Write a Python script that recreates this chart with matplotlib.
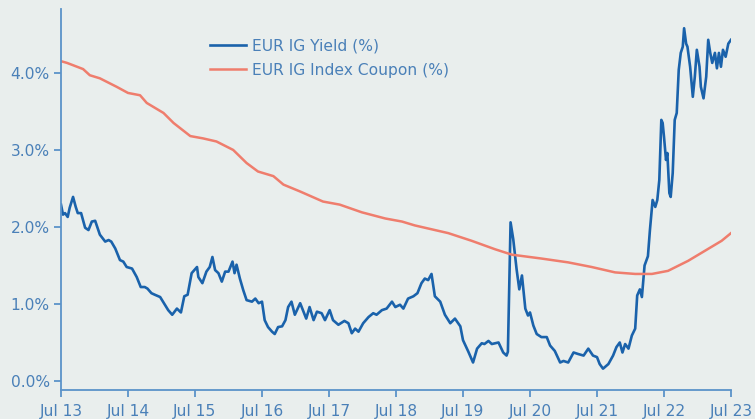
import matplotlib
matplotlib.use("Agg")
import matplotlib.pyplot as plt
import pandas as pd
import numpy as np

# ---- data (decimal years, percent) ----
yield_t = [2013.50, 2013.53, 2013.56, 2013.60, 2013.63, 2013.68, 2013.72, 2013.75, 2013.80, 2013.86,
           2013.91, 2013.96, 2014.01, 2014.08, 2014.16, 2014.21, 2014.25, 2014.31, 2014.38, 2014.43,
           2014.48, 2014.56, 2014.63, 2014.69, 2014.75, 2014.79, 2014.85, 2014.90, 2014.98, 2015.05,
           2015.10, 2015.16, 2015.23, 2015.29, 2015.34, 2015.39, 2015.45, 2015.53, 2015.55, 2015.61,
           2015.67, 2015.72, 2015.76, 2015.80, 2015.85, 2015.90, 2015.95, 2016.00, 2016.06, 2016.09,
           2016.12, 2016.17, 2016.22, 2016.27, 2016.35, 2016.40, 2016.45, 2016.50, 2016.54, 2016.59,
           2016.65, 2016.69, 2016.74, 2016.80, 2016.85, 2016.89, 2016.94, 2016.99, 2017.07, 2017.12,
           2017.16, 2017.21, 2017.27, 2017.32, 2017.39, 2017.44, 2017.51, 2017.56, 2017.64, 2017.73,
           2017.79, 2017.84, 2017.89, 2017.94, 2018.01, 2018.09, 2018.16, 2018.21, 2018.29, 2018.36,
           2018.44, 2018.49, 2018.56, 2018.61, 2018.68, 2018.76, 2018.82, 2018.88, 2018.93, 2018.98,
           2019.03, 2019.08, 2019.16, 2019.23, 2019.31, 2019.38, 2019.46, 2019.50, 2019.58, 2019.65,
           2019.71, 2019.78, 2019.82, 2019.88, 2019.93, 2020.03, 2020.10, 2020.15, 2020.17, 2020.21,
           2020.25, 2020.30, 2020.34, 2020.38, 2020.43, 2020.47, 2020.50, 2020.55, 2020.60, 2020.67,
           2020.75, 2020.80, 2020.87, 2020.95, 2021.00, 2021.07, 2021.15, 2021.22, 2021.30, 2021.37,
           2021.44, 2021.50, 2021.54, 2021.59, 2021.67, 2021.74, 2021.79, 2021.84, 2021.88, 2021.92,
           2021.97, 2022.02, 2022.07, 2022.10, 2022.14, 2022.17, 2022.21, 2022.26, 2022.29, 2022.33,
           2022.37, 2022.40, 2022.43, 2022.46, 2022.48, 2022.50, 2022.53, 2022.55, 2022.58, 2022.60,
           2022.63, 2022.66, 2022.69, 2022.72, 2022.75, 2022.78, 2022.80, 2022.83, 2022.85, 2022.89,
           2022.93, 2022.96, 2022.99, 2023.03, 2023.05, 2023.09, 2023.13, 2023.16, 2023.19, 2023.22,
           2023.26, 2023.29, 2023.32, 2023.35, 2023.38, 2023.42, 2023.46, 2023.50]
yield_v = [2.29, 2.16, 2.18, 2.13, 2.25, 2.39, 2.26, 2.18, 2.18, 1.99,
           1.96, 2.07, 2.08, 1.90, 1.81, 1.83, 1.81, 1.72, 1.57, 1.55,
           1.48, 1.46, 1.35, 1.22, 1.22, 1.20, 1.14, 1.12, 1.09, 0.99,
           0.92, 0.86, 0.94, 0.89, 1.10, 1.12, 1.40, 1.48, 1.35, 1.27,
           1.42, 1.48, 1.61, 1.44, 1.40, 1.29, 1.42, 1.42, 1.55, 1.40,
           1.51, 1.33, 1.18, 1.05, 1.03, 1.07, 1.01, 1.03, 0.79, 0.70,
           0.64, 0.61, 0.70, 0.71, 0.79, 0.96, 1.03, 0.86, 1.01, 0.90,
           0.81, 0.96, 0.79, 0.90, 0.88, 0.79, 0.92, 0.79, 0.73, 0.78,
           0.75, 0.62, 0.68, 0.64, 0.75, 0.83, 0.88, 0.86, 0.92, 0.94,
           1.03, 0.96, 0.99, 0.94, 1.07, 1.10, 1.14, 1.27, 1.33, 1.31,
           1.39, 1.10, 1.03, 0.86, 0.75, 0.81, 0.71, 0.53, 0.38, 0.24,
           0.42, 0.49, 0.48, 0.52, 0.48, 0.50, 0.37, 0.33, 0.38, 2.06,
           1.84, 1.45, 1.19, 1.37, 0.94, 0.85, 0.89, 0.72, 0.61, 0.57,
           0.57, 0.46, 0.39, 0.24, 0.26, 0.24, 0.37, 0.35, 0.33, 0.42,
           0.33, 0.31, 0.22, 0.16, 0.22, 0.33, 0.44, 0.50, 0.37, 0.48,
           0.42, 0.59, 0.68, 1.11, 1.19, 1.09, 1.50, 1.62, 1.96, 2.35,
           2.26, 2.35, 2.61, 3.39, 3.35, 3.17, 2.87, 2.96, 2.44, 2.39,
           2.70, 3.39, 3.48, 4.04, 4.26, 4.34, 4.58, 4.38, 4.34, 4.08,
           3.69, 3.95, 4.30, 4.08, 3.82, 3.67, 3.95, 4.43, 4.26, 4.13,
           4.26, 4.06, 4.26, 4.08, 4.30, 4.21, 4.38, 4.43]

coupon_t = [2013.51, 2013.59, 2013.83, 2013.93, 2014.08, 2014.33, 2014.50, 2014.68, 2014.78, 2015.03,
            2015.18, 2015.43, 2015.62, 2015.82, 2016.07, 2016.27, 2016.44, 2016.67, 2016.82, 2017.07,
            2017.41, 2017.66, 2017.99, 2018.34, 2018.59, 2018.78, 2019.03, 2019.28, 2019.63, 2019.98,
            2020.23, 2020.67, 2021.07, 2021.42, 2021.77, 2022.07, 2022.32, 2022.56, 2022.86, 2023.11,
            2023.36, 2023.50]
coupon_v = [4.15, 4.13, 4.05, 3.97, 3.93, 3.82, 3.74, 3.71, 3.61, 3.48,
            3.35, 3.18, 3.15, 3.11, 3.00, 2.83, 2.72, 2.66, 2.55, 2.46,
            2.33, 2.29, 2.19, 2.11, 2.07, 2.02, 1.97, 1.92, 1.82, 1.71,
            1.64, 1.59, 1.54, 1.48, 1.41, 1.39, 1.39, 1.43, 1.56, 1.69,
            1.82, 1.92]

x_ticks = [2013.5 + i for i in range(11)]
x_labels = ["Jul 13", "Jul 14", "Jul 15", "Jul 16", "Jul 17", "Jul 18",
            "Jul 19", "Jul 20", "Jul 21", "Jul 22", "Jul 23"]
y_ticks = [0.0, 1.0, 2.0, 3.0, 4.0]
y_labels = ["0.0%", "1.0%", "2.0%", "3.0%", "4.0%"]
series_names = ["EUR IG Yield (%)", "EUR IG Index Coupon (%)"]

# ---- style ----
bg = "#e9eeed"
axis_col = "#5b93c9"
text_col = "#4a80b8"
yield_col = "#1a62ab"
coupon_col = "#ef7d6d"
fs = 11.2

fig = plt.figure(figsize=(7.55, 4.19), dpi=100, facecolor=bg)
ax = fig.add_axes([61/755, 29/419, 670/755, 381/419])
ax.set_facecolor(bg)

ax.plot(yield_t, yield_v, color=yield_col, lw=1.9, label=series_names[0], solid_joinstyle="round")
ax.plot(coupon_t, coupon_v, color=coupon_col, lw=1.8, label=series_names[1])

ax.set_xlim(2013.5, 2023.5)
ax.set_ylim(-0.117, 4.83)

ax.set_xticks(x_ticks)
ax.set_xticklabels(x_labels)
ax.set_yticks(y_ticks)
ax.set_yticklabels(y_labels)

for s in ["top", "right"]:
    ax.spines[s].set_visible(False)
for s in ["left", "bottom"]:
    ax.spines[s].set_color(axis_col)
    ax.spines[s].set_linewidth(1.3)
ax.tick_params(axis="both", colors=axis_col, labelcolor=text_col, length=5, width=1.3,
               labelsize=fs)
ax.tick_params(axis="x", pad=5)
ax.tick_params(axis="y", pad=3)

leg = ax.legend(loc="upper left", bbox_to_anchor=(0.213, 0.94), frameon=False,
                fontsize=fs, handlelength=2.3, handletextpad=0.4, labelspacing=0.62,
                borderaxespad=0)
for t in leg.get_texts():
    t.set_color(text_col)

fig.savefig("out.png", dpi=100, facecolor=bg)
